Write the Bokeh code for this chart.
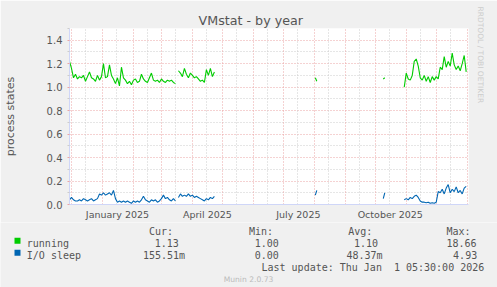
import numpy as np
from bokeh.plotting import figure
from bokeh.layouts import column, row
from bokeh.models import (Range1d, FixedTicker, PrintfTickFormatter, Grid, Title, ColumnDataSource)
from bokeh.core.properties import value
from bokeh.embed import file_html
from bokeh.resources import INLINE

# ---------------- data (x = days since 2025-01-01) ----------------
seg1_days = list(range(-33, 74, 2))
seg2_days = list(range(76, 113, 2))
seg3_days = [213, 214.5]
seg4_days = [281, 282.5]
seg5_days = list(range(302, 365, 2))

running_1 = [1.22, 1.16, 1.08, 1.11, 1.07, 1.09, 1.08, 1.10, 1.05, 1.09, 1.13, 1.08, 1.07, 1.05,
             1.10, 1.06, 1.09, 1.20, 1.08, 1.09, 1.19, 1.10, 1.07, 1.03, 1.08, 1.01, 1.17, 1.08,
             1.06, 1.03, 1.05, 1.02, 1.06, 1.07, 1.04, 1.05, 1.11, 1.07, 1.05, 1.04, 1.08, 1.12,
             1.06, 1.05, 1.06, 1.04, 1.07, 1.05, 1.04, 1.06, 1.05, 1.06, 1.04, 1.03]
running_2 = [1.14, 1.12, 1.09, 1.16, 1.11, 1.08, 1.12, 1.10, 1.08, 1.09, 1.07, 1.05, 1.06, 1.04,
             1.15, 1.10, 1.16, 1.09, 1.13]
running_3 = [1.08, 1.05]
running_4 = [1.07, 1.08]
running_5 = [1.00, 1.12, 1.07, 1.06, 1.10, 1.22, 1.24, 1.18, 1.08, 1.06, 1.10, 1.05, 1.09, 1.04,
             1.09, 1.06, 1.09, 1.07, 1.17, 1.15, 1.26, 1.17, 1.22, 1.18, 1.29, 1.19, 1.15, 1.18,
             1.14, 1.20, 1.27, 1.13]

iosleep_1 = [0.04, 0.06, 0.04, 0.03, 0.03, 0.04, 0.03, 0.05, 0.04, 0.03, 0.04, 0.05, 0.03, 0.04,
             0.05, 0.09, 0.08, 0.10, 0.08, 0.09, 0.10, 0.08, 0.12, 0.05, 0.02, 0.03, 0.02, 0.03,
             0.02, 0.03, 0.02, 0.01, 0.03, 0.02, 0.03, 0.02, 0.04, 0.07, 0.04, 0.03, 0.02, 0.04,
             0.03, 0.04, 0.02, 0.03, 0.05, 0.08, 0.05, 0.06, 0.04, 0.03, 0.05, 0.03]
iosleep_2 = [0.06, 0.09, 0.07, 0.08, 0.07, 0.09, 0.07, 0.08, 0.06, 0.07, 0.06, 0.05, 0.04, 0.03,
             0.05, 0.04, 0.06, 0.05, 0.07]
iosleep_3 = [0.08, 0.12]
iosleep_4 = [0.05, 0.10]
iosleep_5 = [0.04, 0.05, 0.04, 0.06, 0.05, 0.07, 0.08, 0.06, 0.03, 0.02, 0.02, 0.015, 0.02, 0.01,
             0.015, 0.01, 0.02, 0.11, 0.10, 0.13, 0.09, 0.14, 0.17, 0.10, 0.13, 0.11, 0.15, 0.10,
             0.12, 0.09, 0.14, 0.155]

month_start_days = [-31, 0, 31, 59, 90, 120, 151, 181, 212, 243, 273, 304, 334, 365]
mid_month_days = [-17, 14, 45, 73, 104, 134, 165, 195, 226, 257, 287, 318, 348]
label_days = [15, 105, 196, 288]
label_texts = ["January 2025", "April 2025", "July 2025", "October 2025"]

y_major = [0.0, 0.2, 0.4, 0.6, 0.8, 1.0, 1.2, 1.4]
y_minor = [0.1, 0.3, 0.5, 0.7, 0.9, 1.1, 1.3, 1.5]

series_names = ["running", "I/O sleep"]
series_colors = ["#00CC00", "#0066B3"]
stat_headers = ["Cur:", "Min:", "Avg:", "Max:"]
stats_running = ["1.13", "1.00", "1.10", "18.66"]
stats_iosleep = ["155.51m", "0.00", "48.37m", "4.93"]
title_text = "VMstat - by year"
y_label = "process states"
last_update = "Last update: Thu Jan \u00a01 05:30:00 2026"
footer = "Munin 2.0.73"
side_text = "RRDTOOL / TOBI OETIKER"

# ---------------- build sources ----------------
def join(parts_x, parts_y):
    xs, ys = [], []
    for i, (a, b) in enumerate(zip(parts_x, parts_y)):
        if i:
            xs.append(np.nan); ys.append(np.nan)
        xs.extend(a); ys.extend(b)
    return np.array(xs, dtype=float), np.array(ys, dtype=float)

days_all = [seg1_days, seg2_days, seg3_days, seg4_days, seg5_days]
xr, yr = join(days_all, [running_1, running_2, running_3, running_4, running_5])
xi, yi = join(days_all, [iosleep_1, iosleep_2, iosleep_3, iosleep_4, iosleep_5])
src_r = ColumnDataSource(dict(x=xr, y=yr))
src_i = ColumnDataSource(dict(x=xi, y=yi))

# ---------------- main figure ----------------
W = 497
H1 = 222
H2 = 287 - H1
L, R, T, B = 67, 29, 28, 18

FONT = "DejaVu Sans"
MONO = "DejaVu Sans Mono"
TXT = "#555555"
AXIS_C = "#CFD6F8"
RED = "#EBA5A5"
GRAY = "#CCCCCC"
BG = "#F0F0F0"

p = figure(width=W, height=H1, x_range=Range1d(-33.0, 366.3), y_range=Range1d(0, 1.5),
           output_backend="svg", toolbar_location=None,
           min_border_left=L, min_border_right=R, min_border_top=T, min_border_bottom=B,
           background_fill_color="white", border_fill_color=BG,
           outline_line_color=None)

p.title.text = title_text
p.title.align = "left"
p.title.offset = 196 - L
p.title.standoff = 2
p.title.text_font = FONT
p.title.text_font_size = "12.7px"
p.title.text_font_style = "normal"
p.title.text_color = TXT

p.add_layout(Title(text=side_text, align="left", offset=-22, standoff=14,
                   text_font=FONT, text_font_size="7.5px", text_font_style="normal",
                   text_color="#CCCCCC"), "right")

# x axis
p.xaxis.ticker = FixedTicker(ticks=label_days)
p.xaxis.major_label_overrides = {d: t for d, t in zip(label_days, label_texts)}
p.xaxis.major_tick_line_color = None
p.xaxis.major_tick_out = 0
p.xaxis.major_tick_in = 0
p.xaxis.minor_tick_line_color = None
p.xaxis.major_label_standoff = 4
p.xaxis.axis_line_color = AXIS_C
p.xaxis.major_label_text_font = FONT
p.xaxis.major_label_text_font_size = "9.5px"
p.xaxis.major_label_text_color = TXT

# y axis
p.yaxis.ticker = FixedTicker(ticks=y_major, minor_ticks=y_minor)
p.yaxis.formatter = PrintfTickFormatter(format="%.1f")
p.yaxis.axis_line_color = AXIS_C
p.yaxis.major_tick_out = 2
p.yaxis.major_tick_in = 0
p.yaxis.minor_tick_out = 2
p.yaxis.minor_tick_in = 0
p.yaxis.major_tick_line_color = RED
p.yaxis.minor_tick_line_color = GRAY
p.yaxis.major_label_standoff = 5
p.yaxis.major_label_text_font = FONT
p.yaxis.major_label_text_font_size = "10px"
p.yaxis.major_label_text_color = TXT
p.yaxis.axis_label = y_label
p.yaxis.axis_label_text_font = FONT
p.yaxis.axis_label_text_font_size = "11px"
p.yaxis.axis_label_text_font_style = "normal"
p.yaxis.axis_label_text_color = TXT
p.yaxis.axis_label_standoff = 27

# grids
p.xgrid.grid_line_color = None
p.ygrid.grid_line_color = RED
p.ygrid.grid_line_dash = "1 2"
p.ygrid.minor_grid_line_color = GRAY
p.ygrid.minor_grid_line_dash = "1 2"
p.add_layout(Grid(dimension=0, ticker=FixedTicker(ticks=mid_month_days),
                  grid_line_color=GRAY, grid_line_dash="1 2"))
p.add_layout(Grid(dimension=0, ticker=FixedTicker(ticks=month_start_days),
                  grid_line_color=RED, grid_line_dash="1 2"))

# series
p.line("x", "y", source=src_i, line_color=series_colors[1], line_width=1.1)
p.line("x", "y", source=src_r, line_color=series_colors[0], line_width=1.1)

# ---------------- legend / footer figure (pixel coordinates) ----------------
q = figure(width=W, height=H2, x_range=Range1d(0, W), y_range=Range1d(287, H1),
           output_backend="svg", toolbar_location=None, x_axis_type=None, y_axis_type=None,
           title=None, min_border=0, min_border_left=0, min_border_right=0, min_border_top=0,
           min_border_bottom=0, background_fill_color=BG, border_fill_color=BG,
           outline_line_color=None)
q.xgrid.visible = False
q.ygrid.visible = False

def txt(texts, xs, ys, size, color=TXT, font=MONO, align="left"):
    q.text(x=xs, y=ys, text=texts, text_font=value(font), text_font_size=value(size),
           text_color=color, text_align=align, text_baseline="alphabetic")

txt(stat_headers, [148.5, 248.5, 347.8, 446.0], [231] * 4, "10px")

row_base = [242.5, 254.5]
row_stats = [stats_running, stats_iosleep]
row_x = [[154.2, 254.3, 353.5, 445.9], [142.5, 254.3, 346.0, 452.6]]
for name, color, base, stats, xs in zip(series_names, series_colors, row_base, row_stats, row_x):
    q.quad(left=[14], right=[20], top=[base - 5.3], bottom=[base + 0.8],
           fill_color=color, line_color=None)
    txt([name], [26.3], [base], "10px")
    txt(stats, xs, [base] * 4, "10px")

txt([last_update], [261.0], [266.5], "10px")
txt([footer], [248.0], [279.0], "7.6px", color="#BBBBBB", font=FONT, align="center")

layout = column(p, row(q), spacing=0)
open("out.html", "w").write(file_html(layout, INLINE))
